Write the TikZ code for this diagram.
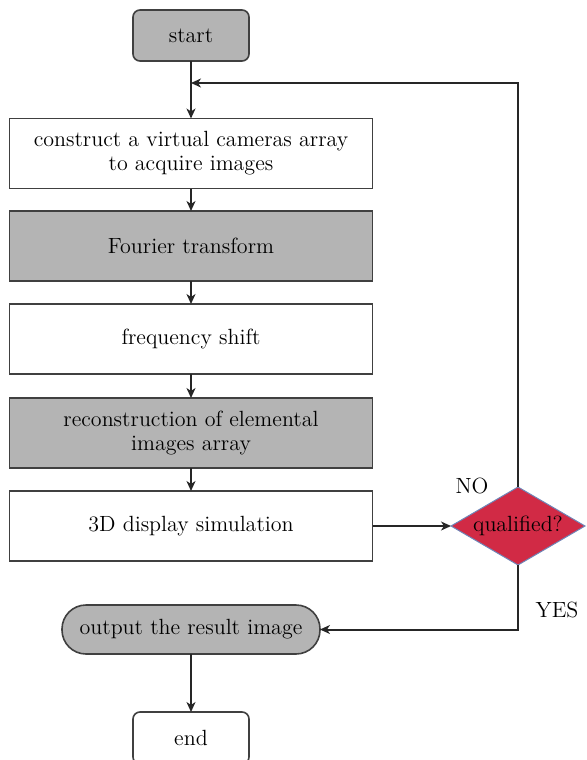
\documentclass[tikz,border=0pt]{standalone}
\usetikzlibrary{arrows.meta,shapes.geometric}
\definecolor{boxgray}{HTML}{B4B4B4}
\definecolor{qred}{HTML}{D12A45}
\definecolor{qedge}{HTML}{6F86B8}
\begin{document}
\begin{tikzpicture}[x=0.5pt,y=-0.5pt,
  font=\fontsize{11}{13}\selectfont,
  every node/.style={inner sep=0pt,outer sep=0pt,align=center,text=black},
  procbox/.style={draw=black!75,line width=0.8pt,minimum width=181.5pt,minimum height=35pt},
  grayfill/.style={fill=boxgray},
  termbox/.style={draw=black!75,line width=0.8pt,rounded corners=3.5pt,minimum width=58pt},
  conn/.style={draw=black!85,line width=1pt,-{Stealth[length=5pt,width=4.5pt,inset=1.5pt]}},
  plainconn/.style={draw=black!85,line width=1pt}]
\useasboundingbox (0,0) rectangle (587,760);
\node[termbox,grayfill,minimum height=25.5pt] (start) at (191,35.5) {start};
\node[procbox] (b1) at (191,153.5) {construct a virtual cameras array\\[-1pt]to acquire images};
\node[procbox,grayfill] (b2) at (191,246) {Fourier transform};
\node[procbox] (b3) at (191,339) {frequency shift};
\node[procbox,grayfill] (b4) at (191,433) {reconstruction of elemental\\[-1pt]images array};
\node[procbox] (b5) at (191,526) {3D display simulation};
\node[diamond,draw=qedge,line width=0.5pt,fill=qred,shape aspect=1.72,minimum width=67pt,minimum height=39pt] (q) at (518,526) {qualified?};
\node[draw=black!75,line width=0.8pt,grayfill,rounded corners=12pt,minimum width=129pt,minimum height=24.5pt] (out) at (191,629.5) {output the result image};
\node[termbox,minimum height=26pt] (end) at (191,738) {end};
\node (no) at (472,486) {NO};
\node (yes) at (557,610) {YES};
\coordinate (fbtop) at (518,83);
\coordinate (fbjoin) at (191,83);
\coordinate (yescorner) at (518,629.5);
\draw[conn] (start) -- (b1);
\draw[conn] (b1) -- (b2);
\draw[conn] (b2) -- (b3);
\draw[conn] (b3) -- (b4);
\draw[conn] (b4) -- (b5);
\draw[conn] (b5) -- (q);
\draw[conn] (q.north) -- (fbtop) -- (fbjoin);
\draw[conn] (q.south) -- (yescorner) -- (out.east);
\draw[conn] (out) -- (end);
\end{tikzpicture}
\end{document}
